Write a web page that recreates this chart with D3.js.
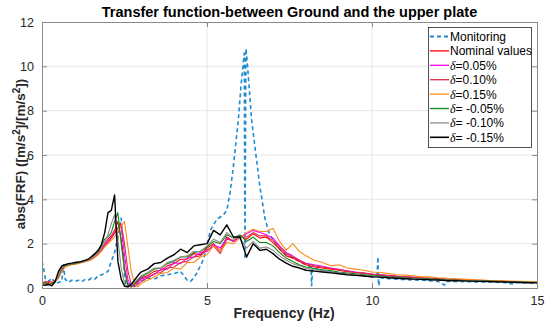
<!DOCTYPE html>
<html>
<head>
<meta charset="utf-8">
<script src="https://cdn.jsdelivr.net/npm/d3@7"></script>
<style>
  body { margin: 0; background: #fff; }
  svg { font-family: "Liberation Sans", Arial, Helvetica, sans-serif; }
</style>
</head>
<body>
<svg id="chart" width="550" height="325"></svg>
<script>
// frequency grid shared by the model curves (Hz)
const freq = [0,0.1,0.2,0.3,0.4,0.5,0.6,0.7,0.8,0.9,1.0,1.1,1.2,1.3,1.4,1.5,1.6,1.7,1.8,1.9,2.0,2.1,2.2,2.3,2.4,2.5,2.6,2.7,2.8,2.9,3.0,
  3.2,3.4,3.6,3.8,4.0,4.2,4.4,4.6,4.8,5.0,5.2,5.4,5.6,5.8,6.0,6.2,6.4,6.6,6.8,7.0,7.2,7.4,7.6,7.8,8.0,
  8.25,8.5,8.75,9.0,9.25,9.5,9.75,10.0,10.25,10.5,10.75,11.0,11.25,11.5,11.75,12.0,12.25,12.5,12.75,13.0,13.25,13.5,13.75,14.0,14.25,14.5,14.75,15.0];

const nominal = [0.25,0.2,0.3,0.2,0.3,0.5,0.85,1.0,1.04,1.08,1.1,1.15,1.2,1.22,1.25,1.35,1.45,1.6,1.8,2.0,2.2,2.35,2.6,3.0,2.2,0.9,0.15,0.05,0.15,0.3,0.45,
  0.55,0.75,0.8,1.0,1.1,1.3,1.3,1.55,1.5,1.8,2.0,1.65,2.3,2.1,2.35,2.2,2.45,2.25,2.3,2.05,1.75,1.45,1.35,1.2,1.05,
  0.95,0.9,0.85,0.8,0.74,0.7,0.66,0.62,0.58,0.55,0.52,0.5,0.47,0.45,0.44,0.42,0.4,0.38,0.36,0.35,0.34,0.32,0.31,0.3,0.29,0.28,0.27,0.26];

const dPos005 = [0.3,0.2,0.25,0.3,0.28,0.5,0.8,0.98,1.03,1.07,1.1,1.13,1.17,1.2,1.25,1.32,1.42,1.55,1.75,1.95,2.1,2.3,2.5,2.7,2.8,1.5,0.4,0.05,0.1,0.25,0.4,
  0.5,0.6,0.85,0.85,1.15,1.1,1.35,1.4,1.6,1.65,1.95,1.8,2.25,2.1,2.3,2.45,2.6,2.5,2.4,2.25,1.9,1.6,1.45,1.25,1.12,
  1.05,0.98,0.9,0.84,0.78,0.72,0.68,0.63,0.6,0.56,0.53,0.5,0.48,0.46,0.44,0.42,0.4,0.39,0.37,0.36,0.34,0.33,0.32,0.3,0.29,0.28,0.27,0.26];

const dPos010 = [0.2,0.3,0.25,0.2,0.35,0.45,0.8,0.97,1.02,1.06,1.09,1.12,1.16,1.2,1.24,1.3,1.4,1.52,1.7,1.9,2.05,2.25,2.45,2.7,2.9,2.0,0.8,0.2,0.05,0.15,0.3,
  0.45,0.65,0.7,0.9,0.95,1.15,1.2,1.4,1.45,1.7,1.9,1.55,2.2,2.15,2.3,2.3,2.5,2.35,2.35,2.15,1.85,1.55,1.4,1.25,1.1,
  1.0,0.94,0.88,0.82,0.76,0.71,0.67,0.62,0.59,0.56,0.53,0.5,0.48,0.46,0.44,0.42,0.4,0.39,0.37,0.35,0.34,0.33,0.31,0.3,0.29,0.28,0.27,0.26];

const dPos015 = [0.15,0.25,0.2,0.3,0.25,0.45,0.75,0.95,1.02,1.05,1.08,1.1,1.14,1.18,1.22,1.28,1.38,1.5,1.65,1.85,2.0,2.15,2.3,2.55,2.8,3.0,1.9,0.8,0.2,0.05,0.2,
  0.35,0.5,0.65,0.7,0.9,0.85,1.15,1.15,1.4,1.5,1.9,1.65,2.05,2.0,2.25,2.5,2.65,2.55,2.55,2.7,2.1,1.7,2.0,1.65,1.45,
  1.25,1.15,1.0,1.05,0.9,0.85,0.8,0.72,0.7,0.65,0.6,0.58,0.55,0.5,0.5,0.46,0.44,0.42,0.4,0.38,0.37,0.35,0.34,0.32,0.31,0.3,0.29,0.28];

const dNeg005 = [0.2,0.25,0.15,0.2,0.3,0.55,0.9,1.0,1.05,1.08,1.1,1.14,1.18,1.22,1.28,1.38,1.5,1.65,1.9,2.2,2.3,2.5,3.0,3.4,2.0,0.8,0.1,0.05,0.2,0.35,0.5,
  0.65,0.85,0.9,1.1,1.2,1.4,1.4,1.6,1.65,1.85,2.1,2.0,2.4,2.25,2.4,2.1,2.3,2.05,2.05,1.9,1.6,1.35,1.2,1.05,0.95,
  0.88,0.82,0.78,0.72,0.68,0.64,0.6,0.56,0.54,0.51,0.49,0.46,0.44,0.42,0.41,0.39,0.37,0.36,0.34,0.33,0.32,0.31,0.3,0.29,0.28,0.27,0.26,0.25];

const dNeg010 = [0.2,0.15,0.1,0.15,0.25,0.6,0.95,1.02,1.08,1.1,1.12,1.15,1.18,1.2,1.26,1.35,1.45,1.6,1.8,2.05,2.4,2.9,3.3,2.2,0.9,0.2,0.05,0.1,0.25,0.4,0.55,
  0.7,0.9,0.9,1.15,1.25,1.4,1.45,1.65,1.65,1.9,2.2,2.05,2.5,2.25,2.25,1.8,2.1,1.8,1.85,1.7,1.45,1.25,1.1,1.0,0.88,
  0.82,0.78,0.72,0.68,0.64,0.6,0.56,0.53,0.51,0.48,0.46,0.44,0.42,0.4,0.39,0.37,0.36,0.34,0.33,0.32,0.31,0.3,0.29,0.28,0.27,0.26,0.25,0.24];

const dNeg015 = [0.15,0.12,0.18,0.1,0.3,0.75,1.0,1.05,1.1,1.12,1.15,1.17,1.2,1.25,1.3,1.42,1.55,1.7,1.95,2.5,3.4,3.5,4.2,1.2,0.4,0.08,0.05,0.15,0.35,0.55,0.72,
  0.85,1.1,1.15,1.35,1.5,1.75,1.6,1.9,1.95,2.0,2.6,2.4,2.85,2.3,2.3,1.4,2.0,1.7,1.75,1.55,1.3,1.12,0.98,0.9,0.8,
  0.76,0.72,0.68,0.64,0.6,0.57,0.54,0.5,0.49,0.46,0.44,0.42,0.4,0.39,0.37,0.36,0.34,0.33,0.32,0.31,0.3,0.29,0.28,0.27,0.26,0.25,0.24,0.23];

// monitoring curve has its own frequencies
const monFreq = [0,0.05,0.1,0.2,0.3,0.4,0.5,0.6,0.65,0.7,0.8,0.9,1.0,1.1,1.2,1.3,1.4,1.5,1.6,1.7,1.8,1.9,2.0,2.1,2.2,2.3,2.4,2.45,2.5,2.55,2.6,2.8,
  3.0,3.2,3.4,3.6,3.8,4.0,4.2,4.3,4.4,4.5,4.6,4.7,4.8,4.9,5.0,5.1,5.3,5.5,5.6,5.7,5.8,5.95,6.03,6.1,6.13,6.15,6.18,6.22,6.35,6.6,6.76,6.9,
  7.0,7.2,7.4,7.6,7.8,8.0,8.15,8.17,8.2,8.5,9.0,9.5,10.0,10.15,10.18,10.2,10.25,10.5,11.0,11.5,12.0,12.2,12.25,12.5,13.0,13.5,14.0,14.25,14.3,14.5,15.0];
const monVals = [1.2,0.9,0.4,0.3,0.45,0.2,0.25,0.3,1.05,0.4,0.25,0.35,0.3,0.35,0.28,0.38,0.35,0.45,0.4,0.55,0.6,0.65,0.75,1.2,1.6,2.3,3.15,2.0,0.5,0.15,0.2,0.15,
  0.3,0.45,0.4,0.55,0.6,0.65,0.75,0.55,0.35,0.3,0.45,0.7,1.0,1.3,1.9,2.6,3.1,3.3,3.5,4.3,5.5,7.6,9.1,10.2,10.6,1.3,10.8,10.2,7.6,4.6,3.1,2.4,
  2.2,1.75,1.5,1.35,1.2,1.05,0.95,0.1,0.9,0.8,0.68,0.6,0.5,0.5,1.4,0.1,0.45,0.42,0.38,0.35,0.3,0.13,0.3,0.3,0.28,0.27,0.25,0.18,0.25,0.24,0.22];

const xTicks = [0, 5, 10, 15];
const yTicks = [0, 2, 4, 6, 8, 10, 12];

const series = [
  {name: "Monitoring", f: monFreq, v: monVals, color: "#1f8bd0", dash: "4,3", w: 1.6},
  {name: "Nominal values", f: freq, v: nominal, color: "#ff0000", w: 1.1},
  {name: "=0.05%", delta: true, f: freq, v: dPos005, color: "#ff00ff", w: 1.1},
  {name: "=0.10%", delta: true, f: freq, v: dPos010, color: "#d62f4b", w: 1.1},
  {name: "=0.15%", delta: true, f: freq, v: dPos015, color: "#ff8c1a", w: 1.1},
  {name: "= -0.05%", delta: true, f: freq, v: dNeg005, color: "#13861a", w: 1.1},
  {name: "= -0.10%", delta: true, f: freq, v: dNeg010, color: "#8c8c8c", w: 1.1},
  {name: "= -0.15%", delta: true, f: freq, v: dNeg015, color: "#000000", w: 1.4}
];

const pLeft = 42, pRight = 537, pTop = 22, pBottom = 288;
const svg = d3.select("#chart");

const x = d3.scaleLinear().domain([0, 15]).range([pLeft, pRight]);
const y = d3.scaleLinear().domain([0, 12]).range([pBottom, pTop]);

// grid
svg.append("g").selectAll("line").data(xTicks.slice(1, -1)).enter().append("line")
  .attr("x1", d => x(d)).attr("x2", d => x(d)).attr("y1", pTop).attr("y2", pBottom)
  .attr("stroke", "#e6e6e6").attr("stroke-width", 1);
svg.append("g").selectAll("line").data(yTicks.slice(1, -1)).enter().append("line")
  .attr("x1", pLeft).attr("x2", pRight).attr("y1", d => y(d)).attr("y2", d => y(d))
  .attr("stroke", "#e6e6e6").attr("stroke-width", 1);

svg.append("clipPath").attr("id", "clip").append("rect")
  .attr("x", pLeft).attr("y", pTop).attr("width", pRight - pLeft).attr("height", pBottom - pTop);

const line = d3.line().x(d => x(d[0])).y(d => y(d[1]));
const plot = svg.append("g").attr("clip-path", "url(#clip)");
series.forEach(s => {
  plot.append("path")
    .datum(s.f.map((f, i) => [f, s.v[i]]))
    .attr("d", line)
    .attr("fill", "none")
    .attr("stroke", s.color)
    .attr("stroke-width", s.w)
    .attr("stroke-dasharray", s.dash || null)
    .attr("stroke-linejoin", "round");
});

// axes (MATLAB style box, inward ticks)
const axisColor = "#262626";
const xAx = svg.append("g").attr("transform", "translate(0," + pBottom + ")")
  .call(d3.axisBottom(x).tickValues(xTicks).tickSize(-5).tickPadding(8));
const xAxTop = svg.append("g").attr("transform", "translate(0," + pTop + ")")
  .call(d3.axisTop(x).tickValues(xTicks).tickSize(-5).tickFormat(""));
const yAx = svg.append("g").attr("transform", "translate(" + pLeft + ",0)")
  .call(d3.axisLeft(y).tickValues(yTicks).tickSize(-5).tickPadding(8));
const yAxR = svg.append("g").attr("transform", "translate(" + pRight + ",0)")
  .call(d3.axisRight(y).tickValues(yTicks).tickSize(-5).tickFormat(""));
[xAx, xAxTop, yAx, yAxR].forEach(g => {
  g.selectAll("path").attr("stroke", "#8a8a8a").attr("stroke-width", 1);
  g.selectAll("line").attr("stroke", "#8a8a8a");
  g.selectAll("text").attr("fill", axisColor).style("font-size", "12.5px")
    .style("font-family", "'Liberation Sans', Arial, sans-serif");
});

// titles
svg.append("text").attr("x", (pLeft + pRight) / 2).attr("y", 16.5).attr("text-anchor", "middle")
  .style("font-weight", "bold").style("font-size", "14.5px").attr("fill", "#000")
  .text("Transfer function-between Ground and the upper plate");

svg.append("text").attr("x", 284).attr("y", 318).attr("text-anchor", "middle")
  .style("font-weight", "bold").style("font-size", "14px").attr("fill", "#262626")
  .text("Frequency (Hz)");

const yl = svg.append("text").attr("transform", "translate(25,154) rotate(-90)")
  .attr("text-anchor", "middle")
  .style("font-weight", "bold").style("font-size", "13.5px").attr("fill", "#262626");
yl.append("tspan").text("abs(FRF) ([m/s");
yl.append("tspan").attr("dy", -5).style("font-size", "10px").text("2");
yl.append("tspan").attr("dy", 5).text("]/[m/s");
yl.append("tspan").attr("dy", -5).style("font-size", "10px").text("2");
yl.append("tspan").attr("dy", 5).text("])");

// legend
const lg = svg.append("g");
lg.append("rect").attr("x", 428.5).attr("y", 27.5).attr("width", 103).attr("height", 120)
  .attr("fill", "#fff").attr("stroke", "#262626").attr("stroke-width", 0.8);
const rows = lg.selectAll("g.row").data(series).enter().append("g")
  .attr("transform", (d, i) => "translate(0," + (36.5 + i * 14.4) + ")");
rows.append("line").attr("x1", 430).attr("x2", 449).attr("y1", 0).attr("y2", 0)
  .attr("stroke", d => d.color).attr("stroke-width", d => d.w + 0.2)
  .attr("stroke-dasharray", d => d.dash || null);
const lt = rows.append("text").attr("x", 450).attr("y", 4.5)
  .style("font-size", "12px").attr("fill", "#000");
lt.filter(d => d.delta).append("tspan")
  .style("font-style", "italic").style("font-family", "'Liberation Serif', 'DejaVu Serif', serif")
  .text("δ");
lt.append("tspan").text(d => d.name);
</script>
</body>
</html>
